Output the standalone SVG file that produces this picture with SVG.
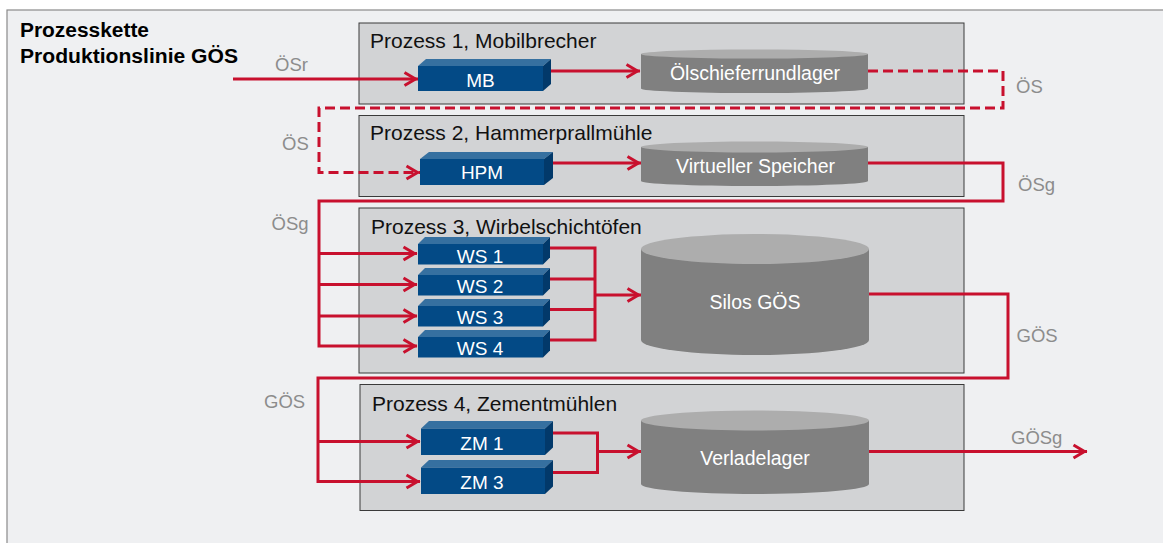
<svg xmlns="http://www.w3.org/2000/svg" width="1163" height="543" viewBox="0 0 1163 543">
<defs>
<style>
text{font-family:"Liberation Sans",Arial,sans-serif}
.frame{fill:#eff0f2;stroke:#8a8a8a;stroke-width:1.2}
.proc{fill:#d2d3d5;stroke:#3a3a3a;stroke-width:1}
.ptitle{font-size:21px;fill:#111}
.title{font-size:20px;font-weight:bold;fill:#000}
.front{fill:#034a86}
.top{fill:#3670a0}
.side{fill:#02396a}
.btxt{font-size:19px;fill:#fff;text-anchor:middle}
.cyl{fill:#808080}
.cyltop{fill:#adadad}
.ctxt{font-size:19.5px;fill:#fff;text-anchor:middle}
.lbl{font-size:18.5px;fill:#8c8c8c}
.con{fill:none;stroke:#c8102e;stroke-width:3;stroke-linejoin:miter}
.arr{marker-end:url(#ah)}
.dash{stroke-dasharray:10 5}
</style>
<marker id="ah" markerUnits="userSpaceOnUse" markerWidth="24" markerHeight="24" viewBox="-16 -12 24 24" refX="0" refY="0" orient="auto">
<path d="M-13.5,-6.5 L-2.5,0 L-13.5,6.5" fill="none" stroke="#c8102e" stroke-width="3" stroke-dasharray="none" stroke-linejoin="miter"/>
</marker>
</defs>

<rect class="frame" x="7" y="10" width="1170" height="550"/>

<g id="title">
<text class="title" x="20" y="36.5" textLength="129" lengthAdjust="spacingAndGlyphs">Prozesskette</text>
<text class="title" x="20" y="63" textLength="218" lengthAdjust="spacingAndGlyphs">Produktionslinie GÖS</text>
</g>

<g id="prozess1">
<rect class="proc" x="359" y="23" width="605" height="81"/>
<text class="ptitle" x="370" y="48">Prozess 1, Mobilbrecher</text>
</g>
<g id="prozess2">
<rect class="proc" x="359" y="115.5" width="605" height="81"/>
<text class="ptitle" x="370" y="140">Prozess 2, Hammerprallmühle</text>
</g>
<g id="prozess3">
<rect class="proc" x="359" y="208" width="605" height="165"/>
<text class="ptitle" x="371" y="233.5">Prozess 3, Wirbelschichtöfen</text>
</g>
<g id="prozess4">
<rect class="proc" x="360" y="384.5" width="604" height="126"/>
<text class="ptitle" x="372" y="410.5">Prozess 4, Zementmühlen</text>
</g>

<g id="connectors">
<path class="con arr" d="M233,79 H418"/>
<path class="con arr" d="M551,71 H640"/>
<path class="con dash arr" d="M868,71 H1003 V108 H319 V172.5 H420"/>
<path class="con arr" d="M553,163 H641"/>
<path class="con arr" d="M868,163 H1003 V201 H319 V346 H417"/>
<path class="con arr" d="M319,253.5 H417"/>
<path class="con arr" d="M319,284.5 H417"/>
<path class="con arr" d="M319,316 H417"/>
<path class="con" d="M550,248 H595 V340 H550"/>
<path class="con" d="M550,279 H595"/>
<path class="con" d="M550,309.5 H595"/>
<path class="con arr" d="M595,295 H641"/>
<path class="con arr" d="M868,294 H1008 V378 H318 V481.5 H420"/>
<path class="con arr" d="M318,441.5 H420"/>
<path class="con" d="M553,433 H597.5 V472.5 H553"/>
<path class="con arr" d="M597.5,451.5 H641"/>
<path class="con arr" d="M868,451.5 H1087"/>
</g>

<g id="labels">
<text class="lbl" x="275" y="70.5">ÖSr</text>
<text class="lbl" x="282" y="150">ÖS</text>
<text class="lbl" x="1016" y="93">ÖS</text>
<text class="lbl" x="1018" y="191">ÖSg</text>
<text class="lbl" x="271.5" y="229.5">ÖSg</text>
<text class="lbl" x="1016.5" y="341.5">GÖS</text>
<text class="lbl" x="264" y="408">GÖS</text>
<text class="lbl" x="1011" y="444">GÖSg</text>
</g>

<g id="MB">
<path class="top" d="M418,66 L426,59 L551,59 L543,66 Z"/>
<path class="side" d="M543,66 L551,59 L551,84 L543,91 Z"/>
<rect class="front" x="418" y="66" width="125" height="25"/>
<text class="btxt" x="480.5" y="86.5">MB</text>
</g>
<g id="HPM">
<path class="top" d="M420,159 L429,152 L553,152 L544,159 Z"/>
<path class="side" d="M544,159 L553,152 L553,178 L544,185 Z"/>
<rect class="front" x="420" y="159" width="124" height="26"/>
<text class="btxt" x="482" y="179">HPM</text>
</g>
<g id="WS1">
<path class="top" d="M418,244 L425,237 L550,237 L543,244 Z"/>
<path class="side" d="M543,244 L550,237 L550,257.5 L543,264.5 Z"/>
<rect class="front" x="418" y="244" width="125" height="20.5"/>
<text class="btxt" x="480" y="262.5">WS 1</text>
</g>
<g id="WS2">
<path class="top" d="M418,275 L425,268 L550,268 L543,275 Z"/>
<path class="side" d="M543,275 L550,268 L550,288.5 L543,295.5 Z"/>
<rect class="front" x="418" y="275" width="125" height="20.5"/>
<text class="btxt" x="480" y="293">WS 2</text>
</g>
<g id="WS3">
<path class="top" d="M418,306 L425,299 L550,299 L543,306 Z"/>
<path class="side" d="M543,306 L550,299 L550,319.5 L543,326.5 Z"/>
<rect class="front" x="418" y="306" width="125" height="20.5"/>
<text class="btxt" x="480" y="323.5">WS 3</text>
</g>
<g id="WS4">
<path class="top" d="M418,337 L425,330 L550,330 L543,337 Z"/>
<path class="side" d="M543,337 L550,330 L550,350.5 L543,357.5 Z"/>
<rect class="front" x="418" y="337" width="125" height="20.5"/>
<text class="btxt" x="480" y="355">WS 4</text>
</g>
<g id="ZM1">
<path class="top" d="M421,428.5 L429,421 L553,421 L545,428.5 Z"/>
<path class="side" d="M545,428.5 L553,421 L553,447.5 L545,455 Z"/>
<rect class="front" x="421" y="428.5" width="124" height="26.5"/>
<text class="btxt" x="482" y="450">ZM 1</text>
</g>
<g id="ZM3">
<path class="top" d="M421,467.5 L429,460 L553,460 L545,467.5 Z"/>
<path class="side" d="M545,467.5 L553,460 L553,486.5 L545,494 Z"/>
<rect class="front" x="421" y="467.5" width="124" height="26.5"/>
<text class="btxt" x="482" y="489">ZM 3</text>
</g>

<g id="oelschieferrundlager">
<path class="cyl" d="M641,54 V88.5 A113.5,4.5 0 0 0 868,88.5 V54 Z"/>
<ellipse class="cyltop" cx="754.5" cy="54" rx="113.5" ry="4.5"/>
<text class="ctxt" x="755" y="80">Ölschieferrundlager</text>
</g>
<g id="virtueller-speicher">
<path class="cyl" d="M641,147 V181 A113.5,5 0 0 0 868,181 V147 Z"/>
<ellipse class="cyltop" cx="754.5" cy="147" rx="113.5" ry="5.5"/>
<text class="ctxt" x="755.5" y="173">Virtueller Speicher</text>
</g>
<g id="silos-goes">
<path class="cyl" d="M641,249 V340 A114,15 0 0 0 869,340 V249 Z"/>
<ellipse class="cyltop" cx="755" cy="249" rx="114" ry="15"/>
<text class="ctxt" x="755" y="309">Silos GÖS</text>
</g>
<g id="verladelager">
<path class="cyl" d="M641,420.5 V484 A114,10 0 0 0 869,484 V420.5 Z"/>
<ellipse class="cyltop" cx="755" cy="420.5" rx="114" ry="10"/>
<text class="ctxt" x="755" y="465">Verladelager</text>
</g>
</svg>
